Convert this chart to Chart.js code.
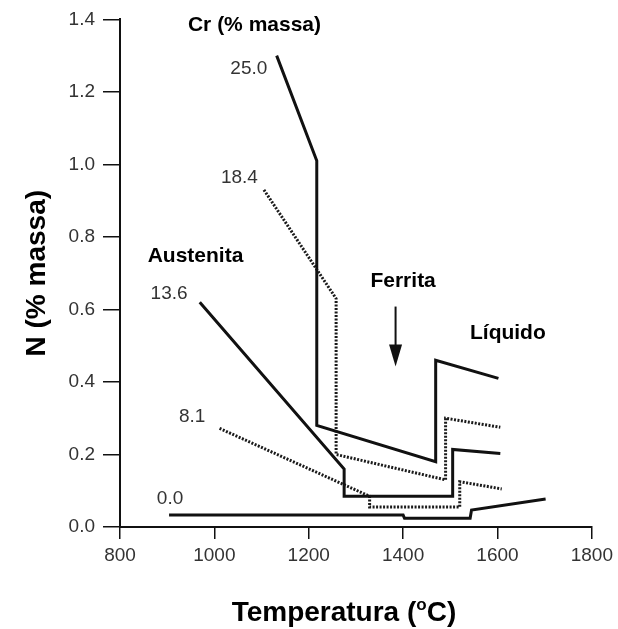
<!DOCTYPE html>
<html>
<head>
<meta charset="utf-8">
<script src="https://cdn.jsdelivr.net/npm/chart.js@4.4.0/dist/chart.umd.min.js"></script>
<style>
  html, body { margin: 0; padding: 0; background: #fff; }
  #wrap { width: 618px; height: 629px; }
</style>
</head>
<body>
<div id="wrap"><canvas id="c" width="618" height="629"></canvas></div>
<script>
// Nitrogen solubility (% massa) in Fe–Cr melts/solids versus temperature,
// one polyline per chromium content.
const xTickValues = [800, 1000, 1200, 1400, 1600, 1800];
const yTickValues = [0.0, 0.2, 0.4, 0.6, 0.8, 1.0, 1.2, 1.4];

const temp25 = [1132, 1217, 1217, 1469, 1469, 1602];
const n25    = [1.30, 1.01, 0.28, 0.18, 0.46, 0.41];

const temp184 = [1105, 1258, 1258, 1490, 1490, 1606];
const n184    = [0.93, 0.63, 0.20, 0.13, 0.30, 0.275];

const temp136 = [969, 1275, 1275, 1505, 1505, 1606];
const n136    = [0.62, 0.16, 0.085, 0.085, 0.214, 0.203];

const temp81 = [1011, 1320, 1329, 1329, 1520, 1520, 1609];
const n81    = [0.272, 0.09, 0.085, 0.055, 0.055, 0.125, 0.105];

const temp0 = [904, 1400, 1403, 1542, 1545, 1702];
const n0    = [0.033, 0.033, 0.024, 0.024, 0.047, 0.077];

function pts(ts, ns) { return ts.map((t, i) => ({ x: t, y: ns[i] })); }

const solid = { borderColor: '#111', borderWidth: 3, borderDash: [] };
const dotted = { borderColor: '#1a1a1a', borderWidth: 3, borderDash: [2, 1.5] };

function line(label, ts, ns, style) {
  return Object.assign({
    label, data: pts(ts, ns), showLine: true, pointRadius: 0,
    tension: 0, fill: false, borderCapStyle: 'butt', borderJoinStyle: 'miter'
  }, style);
}

const datasets = [
  line('25.0', temp25, n25, solid),
  line('18.4', temp184, n184, dotted),
  line('13.6', temp136, n136, solid),
  line('8.1', temp81, n81, dotted),
  line('0.0', temp0, n0, solid)
];

const FAMILY = '"Liberation Sans", Arial, sans-serif';
const boldLabel = 'bold 21px ' + FAMILY;
const numLabel = '19px ' + FAMILY;

// Text placed in data coordinates
const notes = [
  { text: 'Cr (% massa)', x: 1085, y: 1.383, font: boldLabel, color: '#000' },
  { text: '25.0', x: 1073, y: 1.264, font: numLabel, color: '#333' },
  { text: '18.4', x: 1053, y: 0.962, font: numLabel, color: '#333' },
  { text: 'Austenita', x: 960, y: 0.747, font: boldLabel, color: '#000' },
  { text: '13.6', x: 904, y: 0.642, font: numLabel, color: '#333' },
  { text: 'Ferrita', x: 1400, y: 0.678, font: boldLabel, color: '#000' },
  { text: 'Líquido', x: 1622, y: 0.535, font: boldLabel, color: '#000' },
  { text: '8.1', x: 953, y: 0.303, font: numLabel, color: '#333' },
  { text: '0.0', x: 906, y: 0.079, font: numLabel, color: '#333' }
];

const notesPlugin = {
  id: 'notes',
  afterDatasetsDraw(chart) {
    const { ctx, scales: { x, y } } = chart;
    ctx.save();
    ctx.textAlign = 'center';
    ctx.textBaseline = 'middle';
    notes.forEach(n => {
      ctx.font = n.font;
      ctx.fillStyle = n.color;
      ctx.fillText(n.text, x.getPixelForValue(n.x), y.getPixelForValue(n.y));
    });

    // downward arrow under "Ferrita"
    const ax = x.getPixelForValue(1384);
    const ay0 = y.getPixelForValue(0.608);
    const ay1 = y.getPixelForValue(0.443);
    ctx.strokeStyle = '#111';
    ctx.lineWidth = 2;
    ctx.beginPath();
    ctx.moveTo(ax, ay0);
    ctx.lineTo(ax, ay1 - 18);
    ctx.stroke();
    ctx.fillStyle = '#111';
    ctx.beginPath();
    ctx.moveTo(ax - 6.5, ay1 - 22);
    ctx.lineTo(ax + 6.5, ay1 - 22);
    ctx.lineTo(ax, ay1);
    ctx.closePath();
    ctx.fill();

    // x-axis title with superscript "o"
    const big = 'bold 28px ' + FAMILY;
    const small = 'bold 17px ' + FAMILY;
    const p1 = 'Temperatura (', sup = 'o', p2 = 'C)';
    ctx.textAlign = 'left';
    ctx.textBaseline = 'alphabetic';
    ctx.fillStyle = '#000';
    ctx.font = big;
    const w1 = ctx.measureText(p1).width;
    const w3 = ctx.measureText(p2).width;
    ctx.font = small;
    const w2 = ctx.measureText(sup).width;
    const total = w1 + w2 + w3;
    const cx = (chart.chartArea.left + chart.chartArea.right) / 2 - 12;
    let tx = cx - total / 2;
    const base = 621;
    ctx.font = big;
    ctx.fillText(p1, tx, base);
    tx += w1;
    ctx.font = small;
    ctx.fillText(sup, tx, base - 11);
    tx += w2;
    ctx.font = big;
    ctx.fillText(p2, tx, base);
    ctx.restore();
  }
};

const tickFont = { family: FAMILY, size: 19 };

new Chart(document.getElementById('c'), {
  type: 'scatter',
  data: { datasets },
  plugins: [notesPlugin],
  options: {
    responsive: false,
    animation: false,
    devicePixelRatio: 1,
    layout: { padding: { left: 0, right: 25, top: 17, bottom: 0 } },
    plugins: { legend: { display: false }, tooltip: { enabled: false } },
    scales: {
      x: {
        type: 'linear', min: 800, max: 1800,
        afterBuildTicks: s => { s.ticks = xTickValues.map(v => ({ value: v })); },
        afterFit: s => { s.height = 102; },
        ticks: { font: tickFont, color: '#333', padding: 5, maxRotation: 0, callback: v => String(v) },
        grid: { drawOnChartArea: false, drawTicks: true, tickLength: 12, color: '#111', lineWidth: 1.5 },
        border: { display: true, color: '#111', width: 2 }
      },
      y: {
        type: 'linear', min: 0, max: 1.4,
        afterBuildTicks: s => { s.ticks = yTickValues.map(v => ({ value: v })); },
        afterFit: s => { s.width = 120; },
        ticks: { font: tickFont, color: '#333', padding: 8, callback: v => v.toFixed(1) },
        grid: { drawOnChartArea: false, drawTicks: true, tickLength: 17, color: '#111', lineWidth: 1.5 },
        border: { display: true, color: '#111', width: 2 },
        title: {
          display: true, text: 'N (% massa)', color: '#000',
          font: { family: FAMILY, size: 28, weight: 'bold' },
          padding: { top: 20, bottom: 0 }
        }
      }
    }
  }
});
</script>
</body>
</html>
